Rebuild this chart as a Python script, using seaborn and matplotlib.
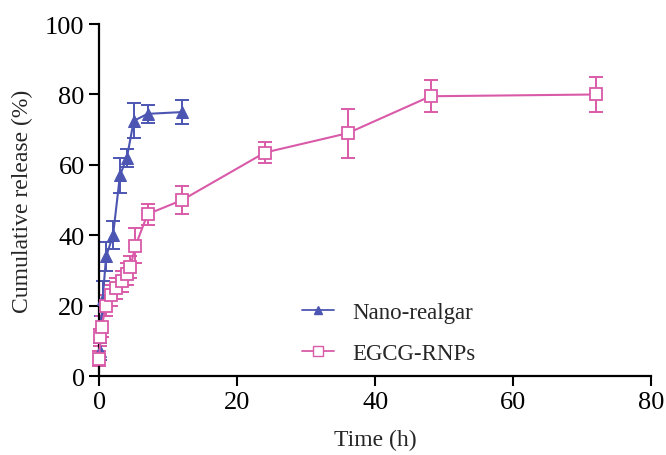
import numpy as np
import pandas as pd
import seaborn as sns
import matplotlib.pyplot as plt
from matplotlib.lines import Line2D

# data
t_nano = [0.083, 0.25, 0.5, 1, 2, 3, 4, 5, 7, 12]
y_nano = [7, 14, 22, 34, 40, 57, 62, 72.5, 74.5, 75]
e_nano = [2.5, 3, 5, 4, 4, 5, 2.5, 5, 2.5, 3.5]

t_egcg = [0, 0.17, 0.33, 1, 1.75, 2.5, 3.25, 4, 4.5, 5.25, 7, 12, 24, 36, 48, 72]
y_egcg = [5, 11, 14, 20, 23, 25, 27, 29, 31, 37, 46, 50, 63.5, 69, 79.5, 80]
e_egcg = [2, 2.5, 3, 3, 3, 3, 3, 3, 3, 5, 3, 4, 3, 7, 4.5, 5]

blue = "#4C56B2"
pink = "#D95AA8"

sns.set_theme(style="ticks")
plt.rcParams["font.family"] = ["Liberation Serif", "DejaVu Serif"]
plt.rcParams["font.size"] = 16

df = pd.concat([
    pd.DataFrame({"time": t_nano, "release": y_nano, "group": "Nano-realgar"}),
    pd.DataFrame({"time": t_egcg, "release": y_egcg, "group": "EGCG-RNPs"}),
])

fig = plt.figure(figsize=(6.66, 4.56), dpi=100)
ax = fig.add_axes([0.149, 0.173, 0.829, 0.772])

# error bars first so markers sit on top
ax.errorbar(t_nano, y_nano, yerr=e_nano, fmt="none", ecolor=blue, elinewidth=1.4,
            capsize=5, capthick=1.4, clip_on=False, zorder=2)
ax.errorbar(t_egcg, y_egcg, yerr=e_egcg, fmt="none", ecolor=pink, elinewidth=1.4,
            capsize=5, capthick=1.4, clip_on=False, zorder=2)

sns.lineplot(data=df, x="time", y="release", hue="group", style="group",
             markers={"Nano-realgar": "^", "EGCG-RNPs": "s"},
             dashes=False, palette={"Nano-realgar": blue, "EGCG-RNPs": pink},
             linewidth=1.5, markersize=8, ax=ax, legend=False, zorder=3)

for ln in ax.get_lines():
    ln.set_clip_on(False)
    if ln.get_marker() == "s":
        ln.set_markerfacecolor("white")
        ln.set_markeredgecolor(pink)
        ln.set_markeredgewidth(1.3)
        ln.set_markersize(8.5)
    elif ln.get_marker() == "^":
        ln.set_markerfacecolor(blue)
        ln.set_markeredgecolor(blue)

ax.set_xlim(0, 80)
ax.set_ylim(0, 100)
ax.set_xticks([0, 20, 40, 60, 80])
ax.set_yticks([0, 20, 40, 60, 80, 100])
ax.set_xlabel("Time (h)", fontsize=17, labelpad=12)
ax.set_ylabel("Cumulative release (%)", fontsize=17, labelpad=9)
ax.tick_params(axis="both", labelsize=19, length=7, width=1.5, direction="out", colors="black")
sns.despine(ax=ax)
for sp in ["left", "bottom"]:
    ax.spines[sp].set_linewidth(1.6)
    ax.spines[sp].set_color("black")

handles = [
    Line2D([], [], color=blue, marker="^", markersize=6, linewidth=1.3),
    Line2D([], [], color=pink, marker="s", markersize=7, markerfacecolor="white",
           markeredgecolor=pink, linewidth=1.3),
]
ax.legend(handles, ["Nano-realgar", "EGCG-RNPs"], loc="upper left",
          bbox_to_anchor=(0.33, 0.27), frameon=False, fontsize=16.5,
          handlelength=1.4, handletextpad=0.8, labelspacing=0.9)

fig.savefig("out.png", dpi=100)
